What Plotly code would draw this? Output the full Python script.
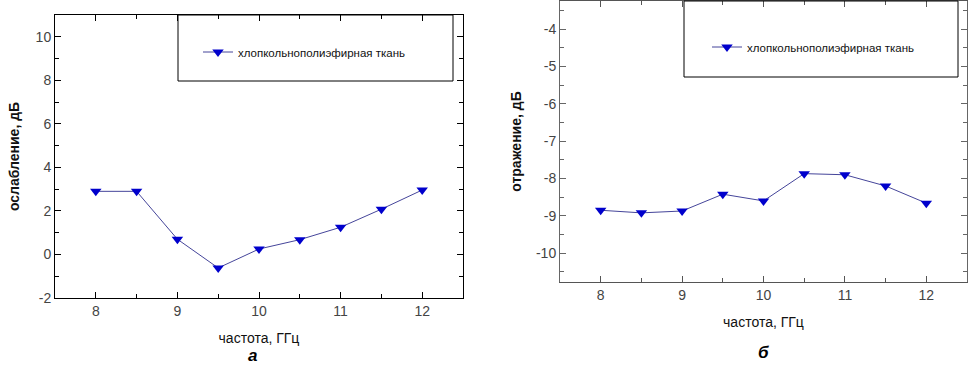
import plotly.graph_objects as go

freq = [8, 8.5, 9, 9.5, 10, 10.5, 11, 11.5, 12]
attenuation = [2.9, 2.9, 0.7, -0.62, 0.25, 0.68, 1.25, 2.08, 2.96]
reflection = [-8.85, -8.92, -8.87, -8.42, -8.6, -7.87, -7.9, -8.2, -8.66]
series_name = "хлопкольнополиэфирная ткань"
x_title = "частота, ГГц"
y_title_a = "ослабление, дБ"
y_title_b = "отражение, дБ"
panel_labels = ["а", "б"]
x_ticks = [8, 9, 10, 11, 12]
y_ticks_a = [-2, 0, 2, 4, 6, 8, 10]
y_ticks_b = [-10, -9, -8, -7, -6, -5, -4]
y_labels_a = ["-2", "0", "2", "4", "6", "8", "10"]
y_labels_b = ["-10", "-9", "-8", "-7", "-6", "-5", "-4"]

W, H = 972, 375
FONT = "Liberation Sans, Arial, sans-serif"
LINE_C = "#45459a"
MARK_C = "#0000cc"

def px(x):
    return x / W

def py(y):
    return (H - y) / H

fig = go.Figure()
fig.add_trace(go.Scatter(
    x=freq, y=attenuation, mode="lines+markers", name=series_name,
    line=dict(color=LINE_C, width=1),
    marker=dict(symbol="triangle-down", size=10, color=MARK_C),
    xaxis="x", yaxis="y", legend="legend", showlegend=True, legendgroup="a"))
fig.add_trace(go.Scatter(
    x=freq, y=reflection, mode="lines+markers", name=series_name,
    line=dict(color=LINE_C, width=1),
    marker=dict(symbol="triangle-down", size=10, color=MARK_C),
    xaxis="x2", yaxis="y2", legend="legend2", showlegend=True, legendgroup="b"))

tickfont = dict(family=FONT, size=14, color="#444")
titlefont = dict(family=FONT, size=14, color="#111")

def xax(domain, anchor, lc):
    return dict(domain=domain, anchor=anchor, range=[7.5, 12.5],
                tickmode="array", tickvals=x_ticks, ticktext=[str(v) for v in x_ticks],
                ticks="inside", ticklen=6, tickcolor=lc, showline=True, linecolor=lc,
                linewidth=1, mirror="allticks", showgrid=False, zeroline=False,
                automargin=False,
                minor=dict(tick0=7.5, dtick=0.5, ticks="inside", ticklen=4, tickcolor=lc),
                tickfont=tickfont,
                title=dict(text=x_title, font=titlefont, standoff=15))

def yax(domain, anchor, rng, tv, tt, dt, title, lc, standoff):
    return dict(domain=domain, anchor=anchor, range=rng,
                tickmode="array", tickvals=tv, ticktext=tt,
                ticks="inside", ticklen=6, tickcolor=lc, showline=True, linecolor=lc,
                linewidth=1, mirror="allticks", showgrid=False, zeroline=False,
                automargin=False,
                minor=dict(tick0=0, dtick=dt / 2, ticks="inside", ticklen=4, tickcolor=lc),
                tickfont=tickfont,
                title=dict(text="<b>" + title + "</b>", font=titlefont, standoff=standoff))

fig.update_layout(
    width=W, height=H, margin=dict(l=0, r=0, t=0, b=0, autoexpand=False),
    paper_bgcolor="white", plot_bgcolor="white",
    font=dict(family=FONT), showlegend=True,
    xaxis=xax([px(55), px(463)], "y", "#000"),
    yaxis=yax([py(298), py(15)], "x", [-2, 11], y_ticks_a, y_labels_a, 2, y_title_a, "#000", 12),
    xaxis2=xax([px(560), px(967)], "y2", "#555"),
    yaxis2=yax([py(282), py(1)], "x2", [-10.77, -3.25], y_ticks_b, y_labels_b, 1, y_title_b, "#666", 11),
    legend=dict(x=px(198), y=py(52), xanchor="left", yanchor="middle",
                bgcolor="rgba(0,0,0,0)", borderwidth=0,
                font=dict(family=FONT, size=11.5, color="#111")),
    legend2=dict(x=px(707), y=py(47), xanchor="left", yanchor="middle",
                 bgcolor="rgba(0,0,0,0)", borderwidth=0,
                 font=dict(family=FONT, size=11.5, color="#111")),
    shapes=[
        dict(type="rect", xref="paper", yref="paper", x0=px(178), x1=px(453),
             y0=py(81), y1=py(15), line=dict(color="#000", width=1)),
        dict(type="rect", xref="paper", yref="paper", x0=px(684), x1=px(958),
             y0=py(77), y1=py(1), line=dict(color="#000", width=1)),
    ],
    annotations=[
        dict(text="<b><i>" + panel_labels[0] + "</i></b>", xref="paper", yref="paper",
             x=px(252), y=py(355), xanchor="center", yanchor="middle", showarrow=False,
             font=dict(family=FONT, size=17, color="#000")),
        dict(text="<b><i>" + panel_labels[1] + "</i></b>", xref="paper", yref="paper",
             x=px(763), y=py(352), xanchor="center", yanchor="middle", showarrow=False,
             font=dict(family=FONT, size=17, color="#000")),
    ],
)

fig.write_html("out.html", config={"displayModeBar": False},
               post_script="document.body.style.margin='0';")
